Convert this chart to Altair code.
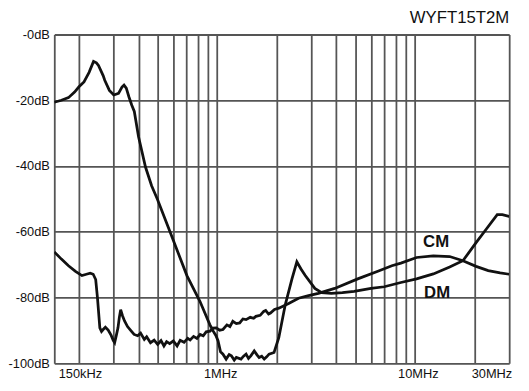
import altair as alt
import pandas as pd

# ---- data ----
cm_freq = [0.150, 0.163, 0.177, 0.192, 0.207, 0.218, 0.228, 0.236, 0.243, 0.248,
           0.255, 0.260, 0.265, 0.272, 0.281, 0.291, 0.298, 0.303, 0.309, 0.315,
           0.320, 0.325, 0.332, 0.340, 0.352, 0.367, 0.380, 0.396, 0.410, 0.428,
           0.440, 0.460, 0.480, 0.500, 0.520, 0.538, 0.555, 0.575, 0.600, 0.627,
           0.650, 0.680, 0.710, 0.730, 0.760, 0.790, 0.820, 0.850, 0.880, 0.920,
           0.950, 0.990, 1.03, 1.07, 1.12, 1.16, 1.20, 1.25, 1.30, 1.35,
           1.40, 1.47, 1.53, 1.57, 1.65, 1.72, 1.76, 1.82, 1.86, 1.95,
           2.05, 2.30, 2.58, 2.90, 3.25, 3.93, 5.14, 6.50, 7.65, 8.50,
           10.2, 12.4, 15.0, 17.5, 20.4, 23.5, 27.0, 30.0]
cm_db = [-66.1, -68.3, -70.3, -72.0, -73.3, -72.9, -72.6, -72.9, -74.5, -80.0,
         -89.2, -90.3, -89.7, -89.0, -89.9, -91.5, -93.0, -93.7, -91.5, -89.2,
         -86.0, -83.7, -85.5, -87.1, -88.8, -90.1, -91.2, -91.6, -90.8, -92.7,
         -91.9, -93.7, -92.9, -94.2, -93.1, -94.7, -93.4, -94.0, -93.2, -94.7,
         -93.0, -93.6, -92.4, -92.9, -91.8, -92.4, -91.2, -91.6, -90.4, -90.2,
         -89.3, -89.2, -89.9, -89.7, -88.3, -88.8, -87.2, -87.9, -87.7, -86.5,
         -86.7, -86.0, -86.3, -85.7, -85.4, -84.2, -83.9, -85.0, -84.7, -83.6,
         -83.2, -81.8, -80.2, -79.4, -78.7, -77.2, -74.3, -72.0, -70.3, -69.5,
         -67.8, -67.3, -67.5, -68.8, -70.5, -71.8, -72.5, -72.9]

dm_freq = [0.150, 0.163, 0.177, 0.190, 0.200, 0.212, 0.225, 0.237, 0.245, 0.251,
           0.265, 0.270, 0.285, 0.300, 0.317, 0.330, 0.338, 0.347, 0.358, 0.370,
           0.381, 0.400, 0.434, 0.466, 0.498, 0.580, 0.703, 0.819, 0.918, 0.955,
           0.985, 1.01, 1.04, 1.07, 1.11, 1.15, 1.18, 1.22, 1.25, 1.32,
           1.36, 1.40, 1.44, 1.48, 1.54, 1.59, 1.63, 1.68, 1.73, 1.78,
           1.83, 1.94, 2.05, 2.21, 2.39, 2.53, 2.65, 2.79, 3.12, 3.38,
           3.78, 4.30, 4.93, 6.00, 7.00, 8.50, 10.2, 12.4, 15.0, 17.5,
           20.4, 22.9, 26.1, 27.7, 29.9, 30.0]
dm_db = [-20.6, -20.0, -19.2, -17.5, -15.9, -14.4, -11.5, -8.2, -8.6, -9.4,
         -12.5, -13.9, -17.0, -18.4, -17.9, -16.0, -15.4, -16.3, -19.0, -21.5,
         -23.4, -31.0, -40.3, -46.0, -50.0, -60.3, -73.3, -81.2, -88.2, -90.2,
         -91.5, -93.1, -96.5, -97.2, -98.7, -97.3, -97.7, -99.0, -98.2, -98.7,
         -97.8, -97.2, -98.5, -97.7, -96.2, -97.4, -98.2, -97.8, -98.7, -98.0,
         -97.2, -96.7, -92.2, -82.2, -74.3, -69.1, -71.2, -73.3, -77.2, -78.5,
         -78.7, -78.5, -78.1, -77.2, -76.7, -75.4, -74.3, -72.8, -70.7, -68.8,
         -63.3, -59.3, -54.8, -54.8, -55.3, -55.3]

label_text = ["CM", "DM"]
label_freq = [12.8, 12.95]
label_db = [-63.0, -78.7]

x_grid = [0.15, 0.2, 0.3, 0.4, 0.5, 0.6, 0.7, 0.8, 0.9,
          1, 2, 3, 4, 5, 6, 7, 8, 9, 10, 20, 30]
y_grid = [0, -10, -20, -30, -40, -50, -60, -70, -80, -90, -100]

chart_title = "WYFT15T2M"

# ---- tables ----
curves = pd.concat([
    pd.DataFrame({"freq": cm_freq, "db": cm_db, "series": "CM"}),
    pd.DataFrame({"freq": dm_freq, "db": dm_db, "series": "DM"}),
], ignore_index=True)
labels = pd.DataFrame({"freq": label_freq, "db": label_db, "text": label_text})

FONT = "Liberation Sans"
INK = "#111111"
GRID = "#555555"

x_scale = alt.Scale(type="log", domain=[0.15, 30], nice=False)
y_scale = alt.Scale(domain=[-100, 0], nice=False, zero=False)

x_axis = alt.Axis(
    values=x_grid,
    labelExpr=("datum.value == 0.15 ? '150kHz' : datum.value == 1 ? '1MHz' : "
               "datum.value == 10 ? '10MHz' : datum.value == 30 ? '30MHz' : ''"),
    title=None, domain=False, ticks=False, grid=True,
    gridColor=GRID, gridWidth=1.8, gridOpacity=1,
    labelFlush=False, labelOverlap=False, labelPadding=4,
    labelFontSize=13, labelFont=FONT, labelColor=INK,
    labelOffset={"condition": [{"test": "datum.value == 0.15", "value": 26},
                               {"test": "datum.value == 30", "value": -18}],
                 "value": 3},
)
y_axis = alt.Axis(
    values=y_grid,
    labelExpr=("datum.value % 20 == 0 ? (datum.value == 0 ? '-0dB' : "
               "datum.value + 'dB') : ''"),
    title=None, domain=False, ticks=False, grid=True,
    gridColor=GRID, gridWidth=1.8, gridOpacity=1,
    labelOverlap=False, labelPadding=5,
    labelFontSize=13, labelFont=FONT, labelColor=INK,
)

lines = alt.Chart(curves).mark_line(color=INK, strokeWidth=2.8, clip=True).encode(
    x=alt.X("freq:Q", scale=x_scale, axis=x_axis),
    y=alt.Y("db:Q", scale=y_scale, axis=y_axis),
    detail="series:N",
)

texts = alt.Chart(labels).mark_text(
    font=FONT, fontSize=17, fontWeight="bold", color=INK
).encode(
    x=alt.X("freq:Q", scale=x_scale),
    y=alt.Y("db:Q", scale=y_scale),
    text="text:N",
)

chart = alt.layer(lines, texts).properties(
    width=462,
    height=334,
    title=alt.TitleParams(text=chart_title, anchor="end", frame="group",
                          fontSize=17, fontWeight="normal", font=FONT,
                          color=INK, offset=2),
    autosize=alt.AutoSizeParams(type="none"),
    padding={"left": 47, "top": 24, "right": 12, "bottom": 17},
).configure_view(stroke=None).configure(background="white")

chart.save("out.html", embed_options={"renderer": "svg", "actions": False})
